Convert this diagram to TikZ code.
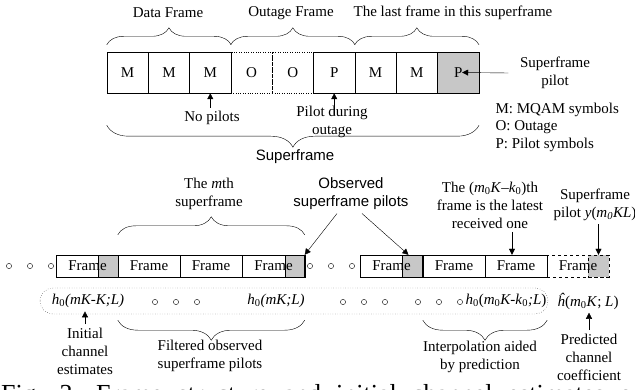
\documentclass[tikz,border=0pt]{standalone}
\usepackage{fontspec}
\setmainfont{Liberation Serif}
\newfontfamily\arialfont{Liberation Sans}
\usetikzlibrary{arrows.meta,decorations.pathreplacing}
\tikzset{cell/.style={draw,minimum width=41.3pt,minimum height=41pt,inner sep=0pt},
 gapcell/.style={cell,dotted},
 pilcell/.style={cell,fill=black!22},
 frm/.style={draw,minimum width=62pt,minimum height=22pt,inner sep=0pt},
 shade/.style={draw,fill=black!22,minimum width=20.5pt,minimum height=22pt,inner sep=0pt},
 brc/.style={decorate,decoration={brace,amplitude=#1}},
 lbl/.style={align=center},
 sans/.style={align=center,font=\fontsize{15}{18}\selectfont\arialfont},
 ptr/.style={-{Triangle[length=6pt,width=6pt]}}}
\newcommand{\ooo}[2]{\foreach \k in {0,1,2}{\draw(#1+\k*21,#2)circle(2.6pt);}}
\newcommand{\hz}[1]{\textit{h}\textsubscript{0}\textit{(#1)}}

\begin{document}
\begin{tikzpicture}[x=1pt,y=-1pt,font=\fontsize{15}{18}\selectfont]
\useasboundingbox(0,0)rectangle(635,390);
\node[gapcell](o1) at(251.5,72.5){O};
\node[gapcell](o2) at(292.9,72.5){O};
\node[cell](m1) at(127.6,72.5){M};
\node[cell](m2) at(169,72.5){M};
\node[cell](m3) at(210.3,72.5){M};
\node[cell](p1) at(334.2,72.5){P};
\node[cell](m4) at(375.5,72.5){M};
\node[cell](m5) at(416.8,72.5){M};
\node[pilcell](p2) at(458.2,72.5){P};
\draw[brc=17pt]([yshift=7pt]m1.north west)--([yshift=7pt]m3.north east);
\draw[brc=17pt]([yshift=7pt]o1.north west)--([yshift=7pt]p1.north east);
\draw[brc=17pt]([yshift=7pt]m4.north west)--([yshift=7pt]p2.north east);
\draw[brc=22pt]([yshift=-32pt]p2.south east)--([yshift=-32pt]m1.south west);
\node(df) at(168,13){Data Frame};
\node(of) at(291,13){Outage Frame};
\node(lf) at(453,13){The last frame in this superframe};
\node[sans](sf) at(295,157){Superframe};
\node(np) at(212,118){No pilots};
\node[lbl](pd) at(332,122){Pilot during\\outage};
\node[lbl](sp) at(555,73){Superframe\\pilot};
\node[anchor=west](lm) at(492,110){M: MQAM symbols};
\node[anchor=west](lo) at(492,127){O: Outage};
\node[anchor=west](lp) at(492,145){P: Pilot symbols};
\draw[ptr](m3.south|-np.north)--(m3.south);
\draw[ptr]([yshift=-22pt]p1.south)--(p1.south);
\draw[ptr]([xshift=-8pt]sp.west)--([xshift=4pt]p2.center);
\node[shade](s1) at(108,266){};
\node[shade](s4) at(295,266){};
\node[shade](s5) at(412.5,266){};
\node[shade,dashed](s8) at(598.5,266){};
\node[frm](f1) at(87.5,266){Frame};
\node[frm](f2) at(149,266){Frame};
\node[frm](f3) at(211,266){Frame};
\node[frm](f4) at(273.5,266){Frame};
\node[frm](f5) at(391.5,266){Frame};
\node[frm](f6) at(454,266){Frame};
\node[frm](f7) at(516,266){Frame};
\node[frm,dashed](f8) at(578,266){Frame};
\ooo{9}{266}\ooo{310}{266}
\draw[dotted,rounded corners=13pt](40,288)rectangle(548,314);
\node(h1) at(88,301){\hz{mK-K;L}};
\node(h2) at(276,301){\hz{mK;L}};
\node(h3) at(506,301){\textit{h}\textsubscript{0}(\textit{m}\textsubscript{0}\textit{K-k}\textsubscript{0}\textit{;L})};
\node(hh) at(588,301){\textit{ĥ}(\textit{m}\textsubscript{0}\textit{K}; \textit{L})};
\ooo{155}{302}\ooo{343}{302}\ooo{418}{302}
\draw[brc=18pt]([yshift=20pt]f2.north west)--([yshift=20pt]f4.north east);
\draw[brc=20pt]([yshift=-43pt]f4.south east)--([yshift=-43pt]f2.south west);
\draw[brc=20pt]([yshift=-43pt]f7.south east)--([yshift=-43pt]f6.south west);
\node[lbl](mth) at(209,194){The \textit{m}th\\superframe};
\node[sans](obs) at(351,194){Observed\\superframe pilots};
\node[lbl](lat) at(490,205){The (\textit{m}\textsubscript{0}\textit{K}--\textit{k}\textsubscript{0})th\\frame is the latest\\received one};
\node[lbl](spy) at(595,205){Superframe\\pilot \textit{y}(\textit{m\textsubscript{0}KL})};
\node[lbl](ini) at(85,351){Initial\\channel\\estimates};
\node[lbl](fil) at(210,356){Filtered observed\\superframe pilots};
\node[lbl](itp) at(480,357){Interpolation aided\\by prediction};
\node[lbl](pre) at(589,357){Predicted\\channel\\coefficient};
\draw[ptr]([xshift=-14pt]obs.south)--(f4.north east);
\draw[ptr]([xshift=11pt]obs.south)--([xshift=-4pt]s5.north);
\draw[ptr]([xshift=22pt]lat.south)--([xshift=-4pt]f7.north);
\draw[ptr](s8.north|-spy.south)--(s8.north);
\draw[ptr](ini.north)--(ini.north|-h1.south);
\draw[ptr](pre.north)--(pre.north|-hh.south);
\node[anchor=base west,inner sep=0pt](cap) at(1,402){\fontsize{26}{28}\selectfont\spaceskip=15pt Fig. 3. Frame structure and initial channel estimates of};
\end{tikzpicture}
\end{document}
